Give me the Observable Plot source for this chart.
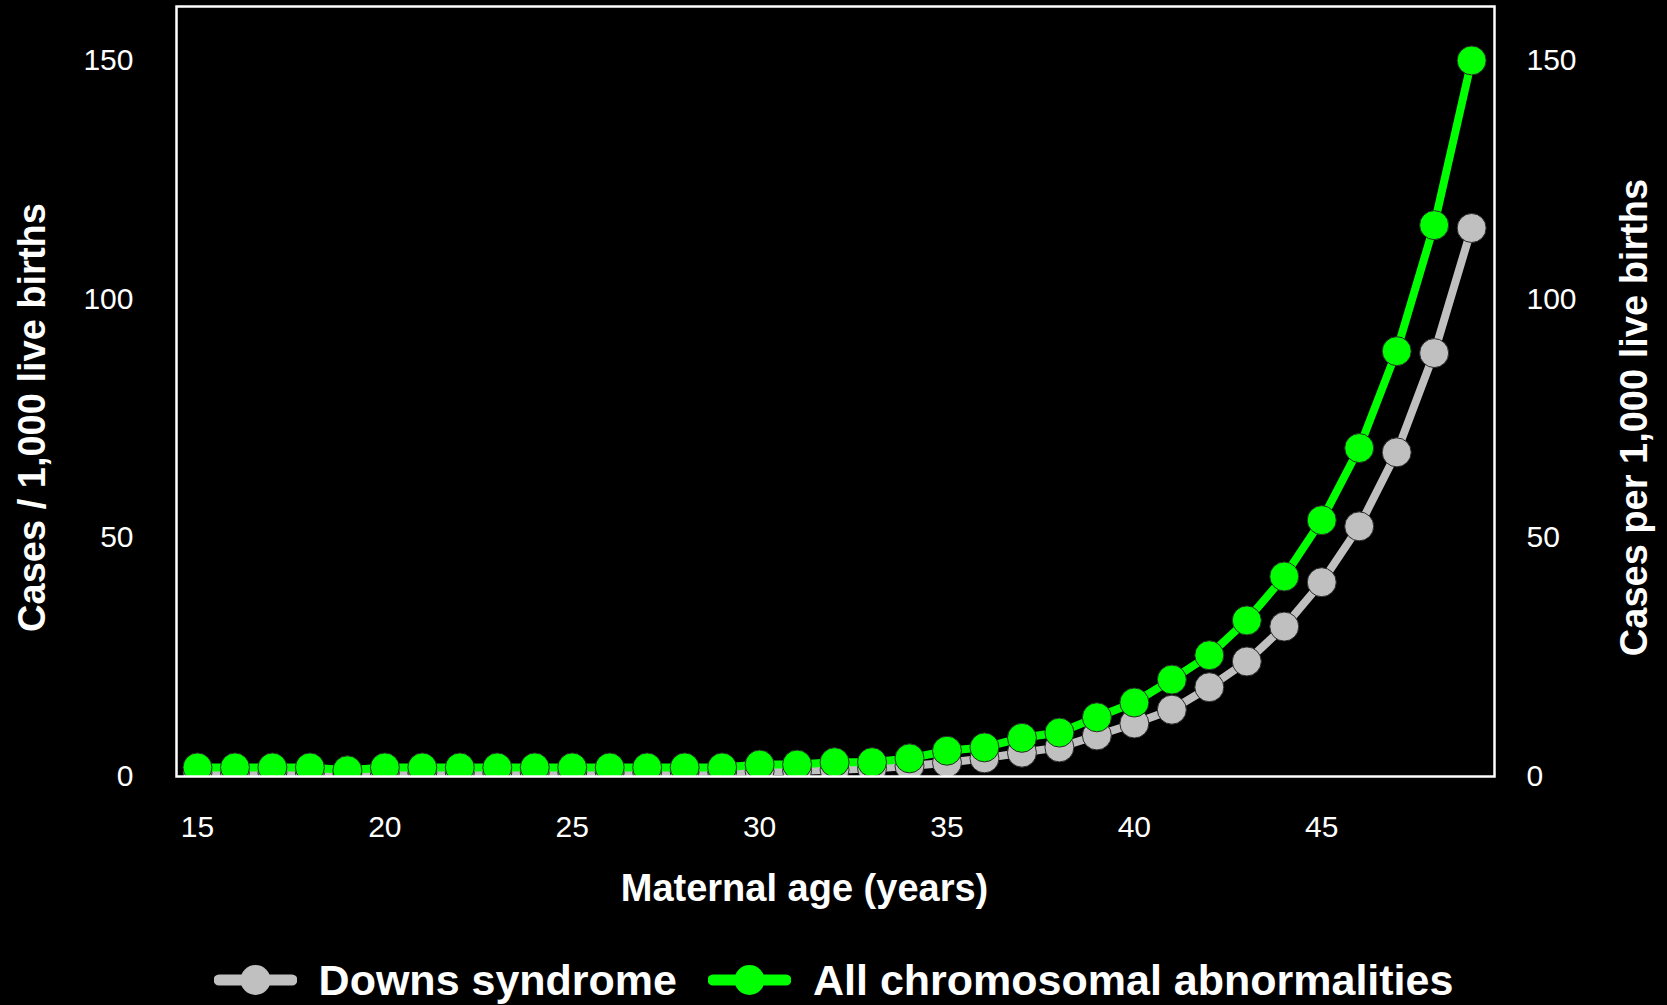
<!DOCTYPE html>
<html>
<head>
<meta charset="utf-8">
<script src="https://cdn.jsdelivr.net/npm/d3@7"></script>
<script src="https://cdn.jsdelivr.net/npm/@observablehq/plot@0.6"></script>
<style>
  html, body { margin: 0; padding: 0; background: #000; overflow: hidden; }
  body { width: 1667px; height: 1005px; font-family: "Liberation Sans", Arial, sans-serif; }
  #legend { height: 50px; padding-top: 15px; display: flex; align-items: center; justify-content: center; color: #fff; font-weight: bold; font-size: 43px; }
  #legend .item { display: flex; align-items: center; }
  #legend svg { display: block; }
</style>
</head>
<body>
<div id="chart"></div>
<div id="legend"></div>
<script>
const ages = [15,16,17,18,19,20,21,22,23,24,25,26,27,28,29,30,31,32,33,34,35,36,37,38,39,40,41,42,43,44,45,46,47,48,49];
const downs = [0.8,0.8,0.8,0.8,0.7,0.8,0.8,0.8,0.8,0.8,0.9,0.9,0.9,1.0,1.0,1.1,1.2,1.4,1.7,2.2,2.9,3.8,5.0,6.1,8.6,11.1,14.0,18.7,24.1,31.4,40.7,52.4,67.9,88.7,114.9];
const allChrom = [1.9,1.9,1.9,1.9,1.3,1.9,1.9,1.9,1.9,1.9,1.9,1.9,1.9,1.9,1.9,2.5,2.5,3.0,3.0,3.8,5.4,6.1,8.1,9.2,12.4,15.5,20.3,25.4,32.7,41.9,53.7,68.8,89.1,115.5,150.0];
const seriesNames = ["Downs syndrome", "All chromosomal abnormalities"];
const seriesColors = ["#c0c0c0", "#00ff00"];
const xTicks = [15,20,25,30,35,40,45];
const yTicks = [0,50,100,150];
const xTitle = "Maternal age (years)";
const yTitleLeft = "Cases / 1,000 live births";
const yTitleRight = "Cases per 1,000 live births";

const downsData = ages.map((a, i) => ({age: a, value: downs[i]}));
const allData = ages.map((a, i) => ({age: a, value: allChrom[i]}));

const font = "Liberation Sans, Arial, sans-serif";
const chart = Plot.plot({
  width: 1667,
  height: 940,
  marginLeft: 176,
  marginRight: 173,
  marginTop: 6,
  marginBottom: 164,
  style: {background: "#000", color: "#fff", fontFamily: font},
  x: {domain: [14.44, 49.61]},
  y: {domain: [0, 161.3]},
  marks: [
    Plot.axisX({ticks: xTicks, tickSize: 0, tickPadding: 39, fontSize: 30, label: null, fill: "#fff"}),
    Plot.axisY({ticks: yTicks, tickSize: 0, tickPadding: 43, fontSize: 30, label: null, fill: "#fff"}),
    Plot.axisY({anchor: "right", ticks: yTicks, tickSize: 0, tickPadding: 32, fontSize: 30, label: null, fill: "#fff"}),
    Plot.line(downsData, {x: "age", y: "value", stroke: seriesColors[0], strokeWidth: 8, clip: true}),
    Plot.dot(downsData, {x: "age", y: "value", r: 14.5, fill: seriesColors[0], stroke: "#2a2a2a", strokeWidth: 1, clip: true}),
    Plot.line(allData, {x: "age", y: "value", stroke: seriesColors[1], strokeWidth: 8, clip: true}),
    Plot.dot(allData, {x: "age", y: "value", r: 14.5, fill: seriesColors[1], stroke: "#2a2a2a", strokeWidth: 1, clip: true}),
    Plot.frame({stroke: "#fff", strokeWidth: 2.5}),
    Plot.text([xTitle], {text: d => d, frameAnchor: "bottom", dx: -31, dy: 112, lineAnchor: "middle", fontSize: 38, fontWeight: "bold", fill: "#fff"}),
    Plot.text([yTitleLeft], {text: d => d, frameAnchor: "left", dx: -144, dy: 26, rotate: -90, lineAnchor: "middle", textAnchor: "middle", fontSize: 38, fontWeight: "bold", fill: "#fff"}),
    Plot.text([yTitleRight], {text: d => d, frameAnchor: "right", dx: 140, dy: 26, rotate: -90, lineAnchor: "middle", textAnchor: "middle", fontSize: 38, fontWeight: "bold", fill: "#fff"})
  ]
});
document.getElementById("chart").appendChild(chart);

const legend = document.getElementById("legend");
seriesNames.forEach((name, i) => {
  const item = document.createElement("div");
  item.className = "item";
  if (i > 0) item.style.marginLeft = "31px";
  const ns = "http://www.w3.org/2000/svg";
  const svg = document.createElementNS(ns, "svg");
  svg.setAttribute("width", 83);
  svg.setAttribute("height", 34);
  const line = document.createElementNS(ns, "line");
  line.setAttribute("x1", 5); line.setAttribute("x2", 78);
  line.setAttribute("y1", 17); line.setAttribute("y2", 17);
  line.setAttribute("stroke", seriesColors[i]);
  line.setAttribute("stroke-width", 11);
  line.setAttribute("stroke-linecap", "round");
  svg.appendChild(line);
  const c = document.createElementNS(ns, "circle");
  c.setAttribute("cx", 41.5); c.setAttribute("cy", 17); c.setAttribute("r", 15);
  c.setAttribute("fill", seriesColors[i]);
  svg.appendChild(c);
  item.appendChild(svg);
  const span = document.createElement("span");
  span.textContent = name;
  span.style.marginLeft = "22px";
  item.appendChild(span);
  legend.appendChild(item);
});
</script>
</body>
</html>
